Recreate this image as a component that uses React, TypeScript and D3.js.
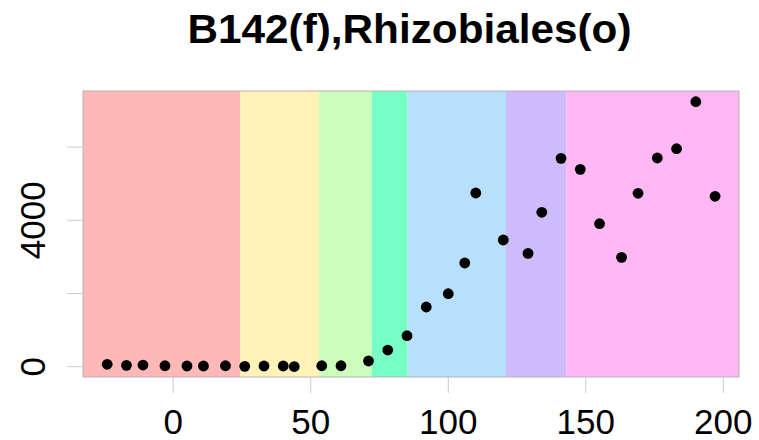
import React from "react";
import * as d3 from "d3";

const title = "B142(f),Rhizobiales(o)";
const xTicks = [0, 50, 100, 150, 200];
const yTicks = [0, 2000, 4000, 6000];
const yTickLabels = ["0", "", "4000", ""];

const bandStarts = [-40, 24.3, 53, 72.2, 85.2, 121, 142.9];
const bandEnds = [24.3, 53, 72.2, 85.2, 121, 142.9, 215];
const bandColors = ["#FFB8B8", "#FFF3B8", "#CCFFBB", "#77FFC6", "#B8DFFB", "#CDBBFC", "#FFB8F3"];

const xValues = [-24, -17, -11, -3, 5, 11, 19, 26, 33, 40, 44, 54, 61, 71, 78, 85, 92, 100, 106, 110, 120, 129, 134, 141, 148, 155, 163, 169, 176, 183, 190, 197];
const yValues = [66, 38, 46, 27, 19, 19, 27, 11, 19, 19, 5, 27, 27, 156, 456, 847, 1631, 1995, 2833, 4746, 3462, 3098, 4219, 5694, 5393, 3907, 2989, 4738, 5702, 5956, 7240, 4656];

const W = 759, H = 440;
const L = 83, R = 739, T = 91, B = 377;

export default function App() {
  const x = d3.scaleLinear().domain([-32.8, 205.7]).range([L, R]);
  const y = d3.scaleLinear().domain([-281, 7533]).range([B, T]);
  const font = "'Liberation Sans', Arial, Helvetica, sans-serif";
  return (
    <div style={{ position: "fixed", left: 0, top: 0 }}>
      <svg width={W} height={H} style={{ display: "block", background: "#fff" }}>
        <defs>
          <clipPath id="plotclip">
            <rect x={L} y={T} width={R - L} height={B - T} />
          </clipPath>
        </defs>
        <g clipPath="url(#plotclip)">
          {bandStarts.map((s, i) => (
            <rect key={i} x={x(s)} y={T} width={x(bandEnds[i]) - x(s)} height={B - T} fill={bandColors[i]} />
          ))}
        </g>
        <rect x={L} y={T} width={R - L} height={B - T} fill="none" stroke="#B8B0B8" strokeWidth={1} />
        {xTicks.map((t) => (
          <g key={"x" + t}>
            <line x1={x(t)} x2={x(t)} y1={B} y2={B + 16} stroke="#CCCCCC" strokeWidth={1} />
            <text x={x(t)} y={434} textAnchor="middle" fontFamily={font} fontSize={35} fill="#000">{t}</text>
          </g>
        ))}
        {yTicks.map((t, i) => (
          <g key={"y" + t}>
            <line x1={L - 16} x2={L} y1={y(t)} y2={y(t)} stroke="#CCCCCC" strokeWidth={1} />
            {yTickLabels[i] && (
              <text transform={`translate(45,${y(t)}) rotate(-90)`} textAnchor="middle" fontFamily={font} fontSize={35} fill="#000">{yTickLabels[i]}</text>
            )}
          </g>
        ))}
        {xValues.map((v, i) => (
          <circle key={i} cx={x(v)} cy={y(yValues[i])} r={5.4} fill="#000" />
        ))}
        <text x={187.5} y={43} fontFamily={font} fontSize={41} fontWeight="bold" fill="#000" textLength={444} lengthAdjust="spacingAndGlyphs">{title}</text>
      </svg>
    </div>
  );
}
